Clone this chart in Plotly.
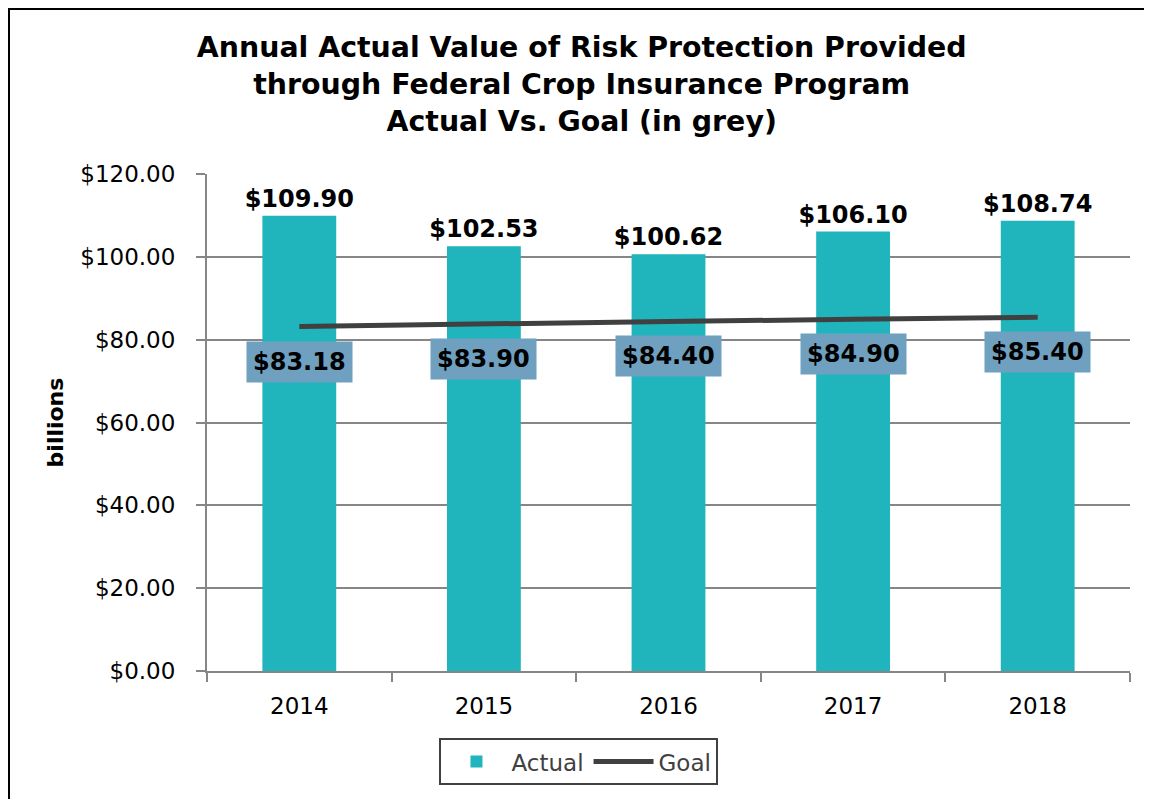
import plotly.graph_objects as go

years = ["2014", "2015", "2016", "2017", "2018"]
actual = [109.90, 102.53, 100.62, 106.10, 108.74]
goal = [83.18, 83.90, 84.40, 84.90, 85.40]
y_ticks = [0, 20, 40, 60, 80, 100, 120]
y_tick_labels = ["$0.00", "$20.00", "$40.00", "$60.00", "$80.00", "$100.00", "$120.00"]

FONT = "DejaVu Sans"
BAR_COLOR = "#20B5BC"
LINE_COLOR = "#404040"
BOX_COLOR = "#6FA0C0"
GRID = "#868686"

fig = go.Figure()
fig.add_trace(go.Bar(
    x=years, y=actual, name="Actual",
    marker=dict(color=BAR_COLOR, line=dict(width=0)),
    width=0.4,
    text=[f"<b>${v:.2f}</b>" for v in actual],
    textposition="outside", constraintext="none",
    textfont=dict(family=FONT, size=24, color="black"),
    cliponaxis=False,
))
fig.add_trace(go.Scatter(
    x=years, y=goal, name="Goal", mode="lines",
    line=dict(color=LINE_COLOR, width=5),
))

annotations = []
for i, g in enumerate(goal):
    annotations.append(dict(
        x=i, y=g, xref="x", yref="y", text=f"<b>${g:.2f}</b>",
        showarrow=False, yshift=-35,
        font=dict(family=FONT, size=24, color="black"),
        bgcolor=BOX_COLOR, borderpad=6,
    ))

title_lines = ["Annual Actual Value of Risk Protection Provided",
               "through Federal Crop Insurance Program",
               "Actual Vs. Goal (in grey)"]

fx0 = (1 - 199) / 923
fy1 = (663 - 1) / 497
frame_path = f"M {fx0},-1 L {fx0},{fy1} L 1.6,{fy1}"

fig.update_layout(
    width=1152, height=799,
    paper_bgcolor="white", plot_bgcolor="white",
    margin=dict(l=199, r=30, t=166, b=136, autoexpand=False),
    title=dict(text="<br>".join(f"<b>{t}</b>" for t in title_lines),
               x=0.498, xanchor="center", y=0.939, yanchor="top",
               font=dict(family=FONT, size=28.4, color="black")),
    showlegend=True,
    legend=dict(orientation="h", x=0.403, xanchor="center", y=-0.135, yanchor="top",
                bordercolor=LINE_COLOR, borderwidth=2, itemwidth=60,
                font=dict(family=FONT, size=23, color=LINE_COLOR)),
    font=dict(family=FONT),
    annotations=annotations,
    shapes=[dict(type="path", xref="paper", yref="paper", path=frame_path,
                 line=dict(color="black", width=2), fillcolor="rgba(0,0,0,0)")],
)
fig.update_yaxes(
    range=[0, 120], tickvals=y_ticks, ticktext=y_tick_labels,
    showgrid=True, gridcolor=GRID, gridwidth=2,
    showline=True, linecolor=GRID, linewidth=2,
    ticks="outside", ticklen=9, tickcolor=GRID, tickwidth=2,
    ticklabelstandoff=16,
    tickfont=dict(family=FONT, size=23, color="black"),
    title=dict(text="<b>billions</b>", font=dict(family=FONT, size=22, color="black"), standoff=11),
    zeroline=False, automargin=False,
)
fig.update_xaxes(
    type="category", categoryorder="array", categoryarray=years,
    range=[-0.5, len(years) - 0.5],
    showline=True, linecolor=GRID, linewidth=2,
    ticks="outside", ticklen=9, tickcolor=GRID, tickwidth=2, tickson="boundaries",
    ticklabelstandoff=13,
    tickfont=dict(family=FONT, size=23, color="black"), tickangle=0,
    automargin=False,
)

fig.write_html("out.html")
